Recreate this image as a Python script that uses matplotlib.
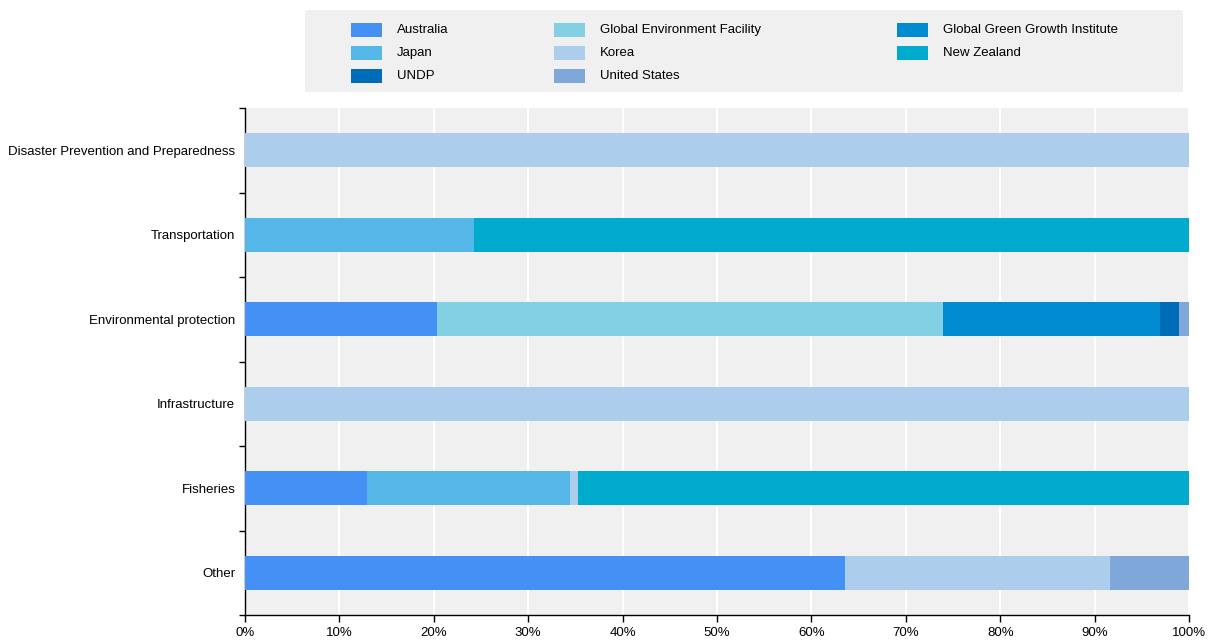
import numpy as np
import matplotlib.pyplot as plt
from matplotlib.patches import Rectangle
from matplotlib.ticker import FixedLocator, PercentFormatter

plt.rcParams['font.family'] = ['Liberation Sans', 'DejaVu Sans']

# ------------------------------------------------------
# Data (share of each provider, %)
# ------------------------------------------------------
categories = ["Disaster Prevention and Preparedness", "Transportation",
              "Environmental protection", "Infrastructure", "Fisheries", "Other"]

providers = ["Australia", "Global Environment Facility", "Global Green Growth Institute",
             "Japan", "Korea", "New Zealand", "UNDP", "United States"]

australia = [0, 0, 20.3, 0, 12.9, 63.6]
gef = [0, 0, 53.6, 0, 0, 0]
gggi = [0, 0, 23.0, 0, 0, 0]
japan = [0, 24.3, 0, 0, 21.5, 0]
korea = [100, 0, 0, 100, 0.9, 28.0]
new_zealand = [0, 75.7, 0, 0, 64.7, 0]
undp = [0, 0, 2.0, 0, 0, 0]
united_states = [0, 0, 1.1, 0, 0, 8.4]

colors = {
    "Australia": "#4590F5",
    "Global Environment Facility": "#83D0E4",
    "Global Green Growth Institute": "#008AD0",
    "Japan": "#55B7E8",
    "Korea": "#ADCDEC",
    "New Zealand": "#00AACC",
    "UNDP": "#006BB6",
    "United States": "#7FA7D9",
}

series = {
    "Australia": australia,
    "Global Environment Facility": gef,
    "Global Green Growth Institute": gggi,
    "Japan": japan,
    "Korea": korea,
    "New Zealand": new_zealand,
    "UNDP": undp,
    "United States": united_states,
}

# stacking order along the bar
stack_order = ["Australia", "Japan", "Global Environment Facility", "Korea",
               "Global Green Growth Institute", "UNDP", "United States", "New Zealand"]

# ------------------------------------------------------
# Figure
# ------------------------------------------------------
fig = plt.figure(figsize=(12.1, 6.41), dpi=100)
W, H = 1210, 641
ax = fig.add_axes([245 / W, 1 - 615 / H, (1189 - 245) / W, (615 - 108) / H])
ax.set_facecolor("#F0F0F0")

y = np.arange(len(categories))
left = np.zeros(len(categories))
for name in stack_order:
    vals = np.array(series[name])
    ax.barh(y, vals, left=left, height=0.4, color=colors[name], linewidth=0, zorder=3)
    left += vals

ax.set_xlim(0, 100)
ax.set_ylim(len(categories) - 0.5, -0.5)
ax.set_yticks(y)
ax.set_yticklabels(categories, fontsize=9.5)
ax.yaxis.set_minor_locator(FixedLocator(np.arange(-0.5, len(categories), 1)))
ax.tick_params(axis="y", which="major", length=0, pad=7)
ax.tick_params(axis="y", which="minor", length=4, width=1, color="black")

ax.set_xticks(np.arange(0, 101, 10))
ax.xaxis.set_major_formatter(PercentFormatter(decimals=0))
ax.tick_params(axis="x", length=5, width=1, color="black", labelsize=9.5, pad=4)

ax.grid(axis="x", color="white", linewidth=1.5, zorder=1)
ax.set_axisbelow(True)
for s in ["top", "right"]:
    ax.spines[s].set_visible(False)
for s in ["left", "bottom"]:
    ax.spines[s].set_color("black")
    ax.spines[s].set_linewidth(1)

# ------------------------------------------------------
# Legend (manual grid, row-major)
# ------------------------------------------------------
fig.patches.append(Rectangle((305 / W, 1 - 92 / H), (1183 - 305) / W, 82 / H,
                             transform=fig.transFigure, facecolor="#F0F0F0",
                             edgecolor="none", zorder=0))
col_x = [351, 554, 897]
row_y = [30, 53, 76]
for i, name in enumerate(providers):
    r, c = divmod(i, 3)
    x0, y0 = col_x[c], row_y[r]
    fig.patches.append(Rectangle((x0 / W, 1 - (y0 + 7) / H), 31 / W, 14 / H,
                                 transform=fig.transFigure,
                                 facecolor=colors[name], edgecolor="none"))
    fig.text((x0 + 46) / W, 1 - y0 / H, name, fontsize=9.5, va="center", ha="left")

fig.savefig("out.png", dpi=100)
